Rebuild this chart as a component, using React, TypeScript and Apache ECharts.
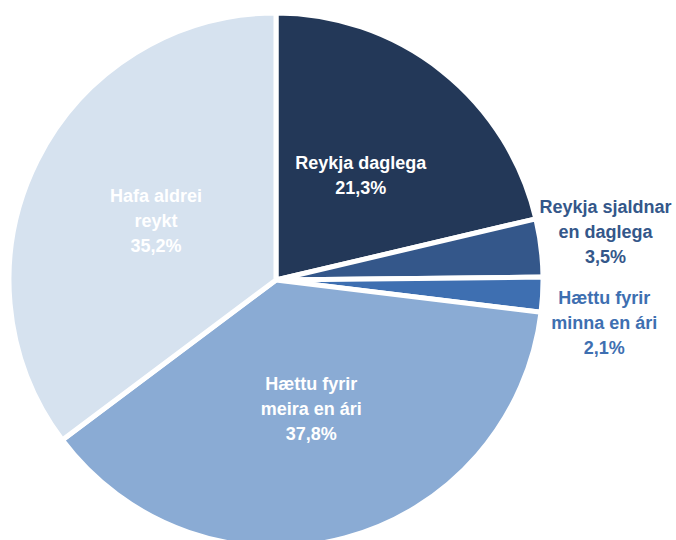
import React, { useEffect, useRef } from "react";
import * as echarts from "echarts";

const categories = [
  "Reykja daglega",
  "Reykja sjaldnar\nen daglega",
  "Hættu fyrir\nminna en ári",
  "Hættu fyrir\nmeira en ári",
  "Hafa aldrei\nreykt",
];
const values = [21.3, 3.5, 2.1, 37.8, 35.2];
const colors = ["#233858", "#34578a", "#3e6fb1", "#8aabd4", "#d6e2ef"];
const labelColors = ["#ffffff", "#34578a", "#3e6fb1", "#ffffff", "#ffffff"];
const labelShift: Array<[number, number]> = [
  [0, 3],
  [194, -32],
  [192, 35],
  [0, -3],
  [2, 2],
];

export default function App() {
  const ref = useRef<HTMLDivElement>(null);
  useEffect(() => {
    if (!ref.current) return;
    const chart = echarts.init(ref.current, null, { renderer: "svg" });
    chart.setOption({
      animation: false,
      backgroundColor: "#ffffff",
      series: [
        {
          type: "pie",
          center: [276, 280],
          radius: 267,
          startAngle: 90,
          clockwise: true,
          avoidLabelOverlap: false,
          itemStyle: { borderColor: "#ffffff", borderWidth: 5 },
          label: {
            show: true,
            position: "inside",
            fontFamily: "'Liberation Sans', Arial, sans-serif",
            fontWeight: "bold",
            fontSize: 18,
            lineHeight: 25,
            align: "center",
            formatter: (p: any) =>
              `${p.name}\n${p.value.toFixed(1).replace(".", ",")}%`,
          },
          labelLine: { show: false },
          emphasis: { disabled: true },
          labelLayout: (p: any) => ({
            dx: labelShift[p.dataIndex][0],
            dy: labelShift[p.dataIndex][1],
          }),
          data: categories.map((name, i) => ({
            name,
            value: values[i],
            itemStyle: { color: colors[i] },
            label: { color: labelColors[i] },
          })),
        },
      ],
    });
    return () => chart.dispose();
  }, []);
  return (
    <div
      ref={ref}
      style={{ position: "fixed", left: 0, top: 0, width: 676, height: 540 }}
    />
  );
}
